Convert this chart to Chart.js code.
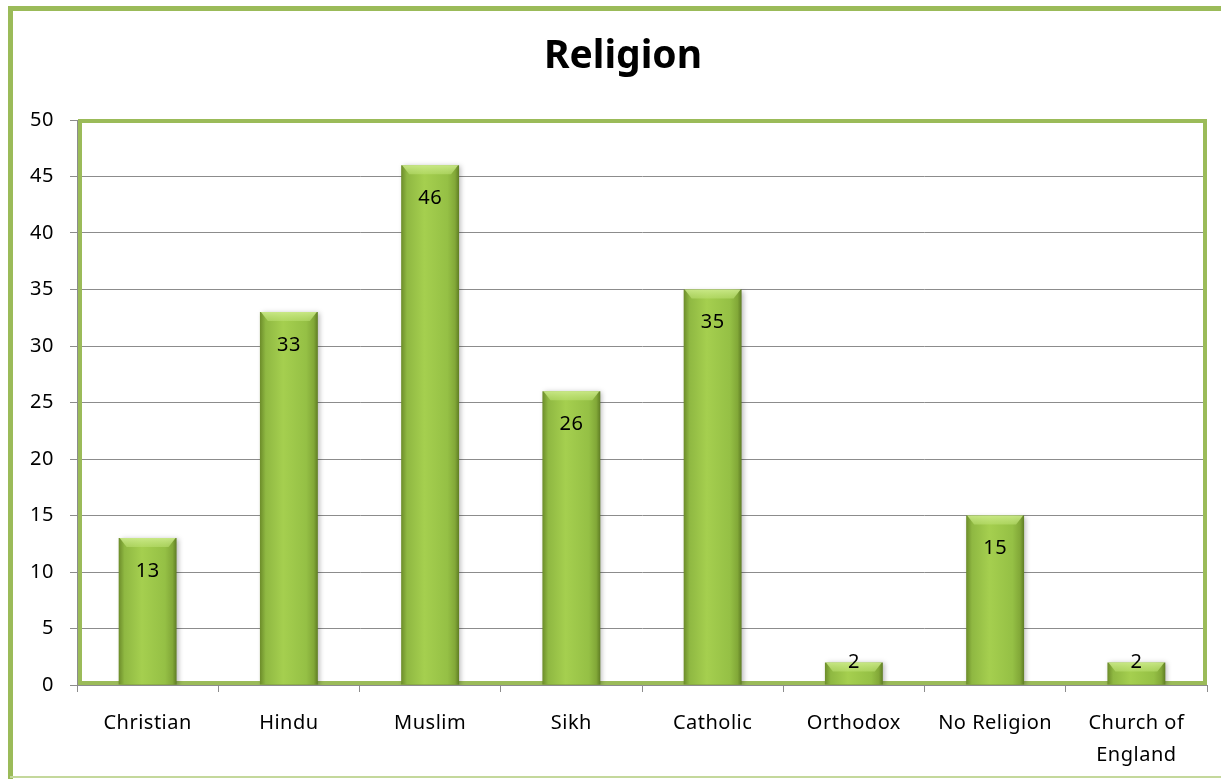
<!DOCTYPE html>
<html>
<head>
<meta charset="utf-8">
<title>Religion</title>
<script src="https://cdn.jsdelivr.net/npm/chart.js@4.4.0/dist/chart.umd.min.js"></script>
<style>
    html, body { margin: 0; padding: 0; background: #fff; }
    #wrap { position: relative; width: 1221px; height: 779px; }
</style>
</head>
<body>
<div id="wrap"><canvas id="religionChart" width="1221" height="779"></canvas></div>
<script>
// Religion survey counts
const categories = ['Christian', 'Hindu', 'Muslim', 'Sikh', 'Catholic', 'Orthodox', 'No Religion', ['Church of', 'England']];
const counts = [13, 33, 46, 26, 35, 2, 15, 2];
const yTicks = [0, 5, 10, 15, 20, 25, 30, 35, 40, 45, 50];

const FONT = '"Noto Sans", "Open Sans", sans-serif';
const GREEN = '#9bbb59';
const BAR_PCT = 0.41;

// horizontal shading so each bar looks rounded
function barGradient(context) {
    const chart = context.chart;
    const xs = chart.scales.x;
    if (!xs || !chart.chartArea || context.dataIndex === undefined) return '#93bd44';
    const cx = xs.getPixelForValue(context.dataIndex);
    const w = (chart.chartArea.width / categories.length) * BAR_PCT;
    const left = cx - w / 2;
    const g = chart.ctx.createLinearGradient(left, 0, left + w, 0);
    g.addColorStop(0, '#6c8c2a');
    g.addColorStop(0.1, '#8fb842');
    g.addColorStop(0.4, '#a5cf4f');
    g.addColorStop(0.8, '#95c045');
    g.addColorStop(0.93, '#82a838');
    g.addColorStop(1, '#5f7d24');
    return g;
}

// outer frame, plot border, bevels and value labels
const decorations = {
    id: 'decorations',
    beforeDraw(chart) {
        const ctx = chart.ctx;
        ctx.letterSpacing = '0.5px';
        ctx.save();
        ctx.strokeStyle = GREEN;
        ctx.lineWidth = 5;
        ctx.beginPath();
        ctx.moveTo(10.5, 779);
        ctx.lineTo(10.5, 8.5);
        ctx.lineTo(1221, 8.5);
        ctx.stroke();
        ctx.lineWidth = 2;
        ctx.strokeStyle = '#c4d89c';
        ctx.beginPath();
        ctx.moveTo(10, 777);
        ctx.lineTo(1221, 777);
        ctx.stroke();

        ctx.fillStyle = '#000';
        ctx.font = 'bold 39px ' + FONT;
        ctx.letterSpacing = '0px';
        ctx.textAlign = 'center';
        ctx.textBaseline = 'middle';
        ctx.fillText('Religion', 623, 57);
        ctx.restore();
    },
    beforeDatasetsDraw(chart) {
        const a = chart.chartArea;
        const ctx = chart.ctx;
        ctx.save();
        ctx.strokeStyle = GREEN;
        ctx.lineWidth = 4;
        ctx.strokeRect(a.left + 3, a.top + 1, a.right - a.left - 5, a.bottom - a.top - 3);
        ctx.restore();
        ctx.save();
        ctx.shadowColor = 'rgba(0, 0, 0, 0.28)';
        ctx.shadowBlur = 5;
        ctx.shadowOffsetX = 2;
        ctx.shadowOffsetY = 1;
    },
    afterDatasetsDraw(chart) {
        const ctx = chart.ctx;
        ctx.restore();
        const meta = chart.getDatasetMeta(0);
        ctx.save();
        meta.data.forEach((bar, i) => {
            const l = bar.x - bar.width / 2;
            const r = bar.x + bar.width / 2;
            const t = bar.y;
            const h = Math.min(9, (bar.base - t) / 2);
            const g = ctx.createLinearGradient(0, t, 0, t + h);
            g.addColorStop(0, 'rgba(205, 235, 140, 0.9)');
            g.addColorStop(1, 'rgba(185, 222, 110, 0.6)');
            ctx.fillStyle = g;
            ctx.beginPath();
            ctx.moveTo(l + 1, t);
            ctx.lineTo(r - 1, t);
            ctx.lineTo(r - 8, t + h);
            ctx.lineTo(l + 8, t + h);
            ctx.closePath();
            ctx.fill();

            const v = counts[i];
            const y = (bar.base - t) > 50 ? t + 33 : t;
            ctx.fillStyle = '#000';
            ctx.font = '20px ' + FONT;
            ctx.textAlign = 'center';
            ctx.textBaseline = 'middle';
            ctx.fillText(String(v), bar.x, y);
        });
        ctx.restore();
    }
};

new Chart(document.getElementById('religionChart'), {
    type: 'bar',
    data: {
        labels: categories,
        datasets: [{
            data: counts,
            backgroundColor: barGradient,
            borderWidth: 0,
            categoryPercentage: 1,
            barPercentage: BAR_PCT
        }]
    },
    options: {
        responsive: false,
        animation: false,
        layout: { padding: { top: 120, right: 14, left: 0, bottom: 0 } },
        plugins: {
            legend: { display: false },
            title: { display: false },
            tooltip: { enabled: false }
        },
        scales: {
            y: {
                min: 0,
                max: 50,
                afterBuildTicks(scale) {
                    scale.ticks = yTicks.map(v => ({ value: v }));
                },
                afterFit(scale) { scale.width = 77; },
                grid: { color: '#8c8c8c', lineWidth: 1, tickLength: 7, drawTicks: true },
                border: { color: '#8c8c8c', width: 1 },
                ticks: { color: '#000', padding: 16, font: { family: FONT, size: 20 } }
            },
            x: {
                afterFit(scale) { scale.height = 94; },
                grid: { drawOnChartArea: false, drawTicks: true, tickLength: 7, color: '#8c8c8c', offset: true },
                border: { color: '#8c8c8c', width: 1 },
                ticks: { color: '#000', padding: 15, maxRotation: 0, font: { family: FONT, size: 20, lineHeight: 1.6 } }
            }
        }
    },
    plugins: [decorations]
});
</script>
</body>
</html>
